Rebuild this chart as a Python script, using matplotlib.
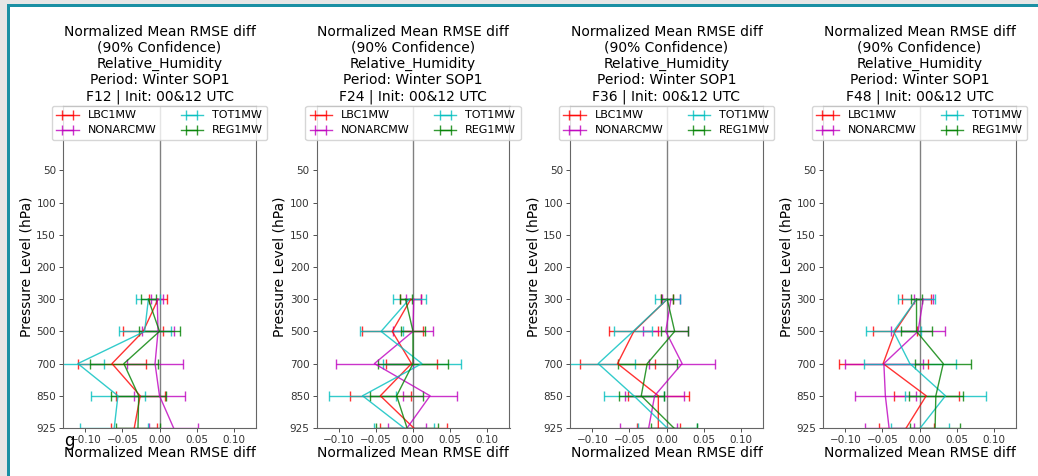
import numpy as np
import matplotlib
matplotlib.use("Agg")
import matplotlib.pyplot as plt
from matplotlib.patches import Rectangle

levels = ['50', '100', '150', '200', '300', '500', '700', '850', '925']
data_levels = ['300', '500', '700', '850', '925']
series = ['LBC1MW', 'NONARCMW', 'TOT1MW', 'REG1MW']
colors = ['r', 'm', 'c', 'g']
leads = ['F12', 'F24', 'F36', 'F48']

# mean normalized RMSE diff per lead, per series, at 300/500/700/850/925 hPa
f12_mean = [[-0.002, -0.022, -0.064, -0.026, -0.034],
            [-0.003, -0.002, -0.006, 0.000, 0.019],
            [-0.015, -0.020, -0.110, -0.056, -0.061],
            [-0.015, 0.000, -0.048, -0.028, -0.029]]
f12_err = [[0.012, 0.027, 0.046, 0.033, 0.031],
           [0.008, 0.021, 0.038, 0.034, 0.033],
           [0.016, 0.035, 0.035, 0.036, 0.046],
           [0.010, 0.027, 0.046, 0.037, 0.030]]

f24_mean = [[-0.003, -0.028, -0.002, -0.044, 0.001],
            [0.001, 0.000, -0.052, 0.023, -0.008],
            [-0.005, -0.043, 0.012, -0.068, -0.012],
            [-0.010, 0.000, 0.000, -0.022, -0.008]]
f24_err = [[0.014, 0.041, 0.034, 0.041, 0.045],
           [0.010, 0.027, 0.052, 0.036, 0.026],
           [0.022, 0.029, 0.052, 0.045, 0.040],
           [0.008, 0.016, 0.047, 0.036, 0.042]]

f36_mean = [[0.001, -0.044, -0.066, -0.011, -0.011],
            [0.006, -0.001, 0.021, -0.016, -0.024],
            [0.001, -0.045, -0.092, -0.044, 0.001],
            [0.001, 0.011, -0.026, -0.034, 0.010]]
f36_err = [[0.008, 0.033, 0.050, 0.041, 0.029],
           [0.012, 0.030, 0.045, 0.040, 0.038],
           [0.017, 0.026, 0.050, 0.040, 0.040],
           [0.008, 0.018, 0.040, 0.030, 0.031]]

f48_mean = [[-0.004, -0.033, -0.049, 0.009, -0.018],
            [0.005, -0.002, -0.048, -0.046, -0.041],
            [-0.004, -0.035, -0.013, 0.035, 0.001],
            [-0.004, -0.004, 0.032, 0.022, 0.021]]
f48_err = [[0.019, 0.030, 0.060, 0.044, 0.037],
           [0.013, 0.036, 0.053, 0.041, 0.033],
           [0.025, 0.037, 0.062, 0.054, 0.039],
           [0.008, 0.021, 0.038, 0.036, 0.034]]

means = [f12_mean, f24_mean, f36_mean, f48_mean]
errs = [f12_err, f24_err, f36_err, f48_err]

fig = plt.figure(figsize=(10.38, 4.76), dpi=100)

# screenshot frame: grey strip + teal line on top and left
fig.patches.append(Rectangle((0, 0), 1, 1, transform=fig.transFigure,
                             facecolor='#e6e6e6', edgecolor='none', zorder=-3))
fig.patches.append(Rectangle((7/1038, 0), 1, 1 - 4/476, transform=fig.transFigure,
                             facecolor='#1a90a4', edgecolor='none', zorder=-2))
fig.patches.append(Rectangle((10/1038, 0), 1, 1 - 7/476, transform=fig.transFigure,
                             facecolor='white', edgecolor='none', zorder=-1))

ypos = [levels.index(l) for l in data_levels]
lefts = [63, 316.5, 570, 823]
for k in range(4):
    ax = fig.add_axes([lefts[k]/1038, 48/476, 193/1038, 322/476])
    ax.patch.set_alpha(0)
    ax.axvline(0, color='grey', lw=1, zorder=0)
    for i in range(4):
        ax.errorbar(means[k][i], ypos, xerr=errs[k][i], color=colors[i],
                    lw=1, capsize=3.5, alpha=0.8, label=series[i])
    ax.set_yticks(range(len(levels)))
    ax.set_yticklabels(levels)
    ax.set_ylim(8, -2)
    ax.set_xlim(-0.13, 0.13)
    ax.set_xticks([-0.1, -0.05, 0, 0.05, 0.1])
    ax.tick_params(labelsize=7.5, length=3, width=0.6, colors='#333333', pad=2)
    for s in ax.spines.values():
        s.set_color('#666666')
        s.set_linewidth(0.8)
    ax.set_xlabel('Normalized Mean RMSE diff', fontsize=10, labelpad=1)
    ax.set_ylabel('Pressure Level (hPa)', fontsize=10, labelpad=2)
    ax.set_title('Normalized Mean RMSE diff\n(90% Confidence)\nRelative_Humidity\n'
                 'Period: Winter SOP1\n' + leads[k] + ' | Init: 00&12 UTC',
                 fontsize=10, pad=4)
    ax.legend(ncol=2, loc='upper center', bbox_to_anchor=(0.5, 1.0),
              borderaxespad=0, fontsize=8, handlelength=2, columnspacing=2.2,
              labelspacing=0.45, handletextpad=0.8, borderpad=0.4)

fig.text(64/1038, 1 - 441/476, 'g', fontsize=12, va='center', ha='left')

fig.savefig('out.png', dpi=100)
